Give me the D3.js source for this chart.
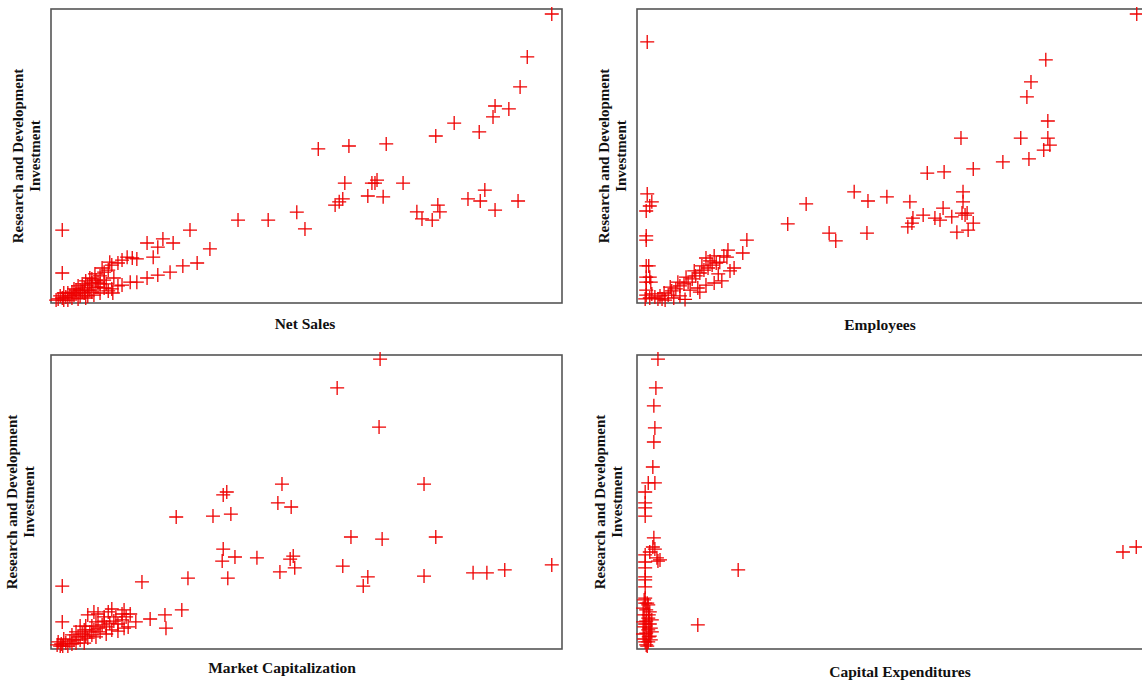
<!DOCTYPE html>
<html>
<head>
<meta charset="utf-8">
<script src="https://cdn.jsdelivr.net/npm/d3@7"></script>
<style>
  body { margin: 0; background: #fff; }
  text { font-family: "Liberation Serif", "Times New Roman", serif; font-weight: bold; fill: #111; }
</style>
</head>
<body>
<div id="container"></div>
<script>
// values are on a 0-100 index scale for each variable
const yLabel = ["Research and Development", "Investment"]

const salesX = [2.2, 2.2, 27.2, 36.6, 42.5, 48.1, 49.7, 21.9, 23.9, 20.9, 18.8, 20.0, 31.1, 28.6, 25.8, 23.3, 20.9, 18.8, 16.8, 15.5, 13.9, 12.1,
    98.0, 93.2, 91.8, 86.9, 89.6, 86.5, 83.8, 78.9, 75.3, 65.6, 58.3, 52.3, 57.5, 63.8, 62.8, 63.4, 68.9, 62.0, 65.0, 57.1, 55.6, 56.4,
    71.6, 72.6, 74.6, 75.7, 76.1, 81.6, 84.0, 84.9, 86.9, 91.4, 14.9, 15.9, 16.8, 13.9, 13.1, 11.9,
    1.4, 2.2, 2.9, 3.7, 2.5, 4.1, 4.9, 5.7, 6.5, 5.3, 7.2, 8.0, 6.8, 8.8, 7.6, 9.6, 8.6, 10.4, 11.2, 10.0, 11.5,
    4.5, 6.1, 7.6, 9.2, 10.8, 8.4, 9.6, 11.2, 11.9, 13.1, 6.8, 5.3, 3.3, 10.4, 12.3,
    1.0, 1.8, 3.3, 4.1, 4.9, 5.7, 6.5, 7.2, 8.0, 8.8, 9.6, 10.4, 8.0, 9.2, 6.1, 7.2, 4.5, 2.5]
const salesY = [24.8, 10.2, 24.8, 28.2, 28.2, 30.9, 25.2, 21.8, 20.4, 19.0, 20.4, 15.6, 18.4, 13.6, 12.6, 10.5, 9.5, 8.5, 7.1, 7.1, 6.1, 3.4,
    98.3, 83.7, 73.5, 67.0, 66.0, 63.3, 58.2, 61.2, 56.8, 54.1, 53.4, 52.4, 40.8, 41.8, 40.8, 40.8, 40.8, 36.4, 36.1, 35.4, 33.3, 34.4,
    31.0, 28.6, 28.2, 33.3, 31.0, 35.4, 34.7, 38.4, 31.6, 34.7, 15.6, 15.3, 15.0, 14.6, 13.6, 12.9,
    1.4, 1.7, 2.0, 2.4, 3.4, 3.7, 3.1, 4.4, 5.1, 5.8, 6.1, 6.8, 7.5, 7.8, 8.5, 9.2, 9.9, 10.5, 11.2, 11.9, 13.9,
    4.8, 3.7, 4.4, 5.4, 6.5, 2.7, 3.4, 4.1, 4.8, 5.8, 1.7, 1.4, 1.0, 7.8, 8.5,
    1.0, 2.4, 3.4, 1.7, 4.4, 2.4, 3.4, 4.4, 3.7, 5.4, 6.5, 5.1, 8.2, 7.1, 6.5, 2.4, 2.7, 1.0]

const employeesX = [2.0, 2.0, 2.9, 2.5, 1.8, 1.8, 1.8, 1.8, 1.8, 1.8, 1.8, 1.8,
    29.5, 33.1, 37.6, 38.9, 42.5, 45.2, 45.0, 48.9, 21.5, 20.7, 17.8, 17.6,
    97.8, 80.0, 77.1, 76.3, 80.4, 75.1, 80.4, 80.8, 79.6, 76.7, 71.6, 63.4, 65.8, 60.1, 56.8, 53.4, 63.8, 63.8, 59.9, 56.0, 54.0, 58.3,
    59.3, 61.6, 63.6, 64.6, 64.2, 65.8, 53.0, 53.8, 62.6, 64.8,
    1.6, 2.5, 3.5, 4.5, 2.9, 5.3, 6.1, 6.8, 7.6, 6.5, 8.4, 9.2, 8.0, 10.0, 10.8, 9.6, 11.5, 12.3, 11.2, 13.1, 13.9, 12.7, 14.7, 15.5, 14.3,
    16.2, 13.5, 15.1, 17.0, 10.4, 11.9, 13.5, 15.1, 16.6, 15.9, 18.2, 4.1, 4.9, 8.4, 12.3, 19.0,
    2.3, 2.5, 2.7, 5.5, 7.2, 9.4]
const employeesY = [88.8, 37.1, 34.4, 33.0, 31.3, 22.8, 21.4, 12.6, 8.8, 7.1, 4.4, 2.7,
    26.9, 33.7, 23.8, 21.1, 37.8, 34.7, 23.8, 36.1, 21.4, 17.0, 18.0, 15.6,
    98.3, 82.7, 75.2, 70.1, 61.9, 56.1, 56.1, 53.7, 52.0, 49.0, 48.0, 56.1, 45.6, 44.6, 44.2, 34.4, 37.8, 34.4, 32.3, 29.9, 28.9, 28.9,
    28.2, 29.3, 30.6, 30.6, 29.9, 27.2, 25.9, 27.2, 24.1, 24.8,
    1.4, 1.7, 2.0, 2.4, 3.1, 3.4, 2.7, 4.1, 4.8, 5.4, 5.8, 6.5, 7.1, 7.1, 8.2, 8.8, 9.2, 10.2, 10.9, 11.2, 11.9, 12.6, 12.9, 13.6, 14.3,
    13.9, 15.3, 16.0, 16.0, 4.4, 5.1, 6.1, 6.8, 7.5, 9.9, 10.9, 1.4, 1.4, 2.4, 3.7, 11.9,
    12.6, 8.8, 7.1, 1.0, 1.7, 1.2]

const marketCapX = [2.2, 2.2, 17.8, 26.8, 34.6, 24.5, 31.7, 35.2, 34.4, 33.7, 45.2, 44.4, 47.0, 33.7, 33.5, 36.0, 40.3, 47.4, 46.8, 44.8, 47.7,
    25.6, 22.3, 19.4, 22.5, 64.4, 56.0, 64.2, 73.0, 58.7, 64.8, 75.3, 57.1, 62.0, 61.1, 73.0, 82.6, 85.3, 88.8, 98.0,
    1.2, 2.0, 2.9, 3.7, 2.5, 4.5, 5.3, 4.1, 6.1, 6.8, 7.6, 6.5, 8.4, 9.2, 8.0, 10.0, 10.8, 11.5, 10.4, 12.3, 13.1, 13.9, 12.7, 14.7,
    15.5, 11.2, 9.2, 7.2, 11.9, 14.3, 5.7, 4.9, 8.8, 10.8, 13.1, 15.1, 3.3, 6.5, 1.8, 16.6,
    1.4, 2.3, 4.1, 4.9, 5.7, 7.2, 8.0, 9.6, 6.8, 8.8, 10.4, 13.9, 8.4, 11.9, 14.3]
const marketCapY = [21.4, 9.2, 22.8, 24.1, 24.1, 44.9, 45.2, 45.9, 53.4, 52.4, 56.1, 49.7, 48.3, 34.0, 29.9, 31.3, 31.0, 31.6, 30.6, 26.2, 27.6,
    13.3, 11.6, 10.2, 7.1, 98.6, 88.8, 75.5, 56.1, 38.1, 37.4, 38.1, 28.2, 24.5, 21.4, 24.8, 25.9, 25.9, 26.9, 28.6,
    1.4, 1.7, 2.0, 2.7, 3.4, 3.1, 4.1, 4.8, 5.1, 4.4, 5.8, 6.5, 6.5, 7.1, 7.8, 8.2, 7.5, 8.8, 9.5, 9.5, 8.5, 9.9, 10.9, 10.9,
    11.9, 12.6, 11.9, 11.6, 13.6, 13.3, 7.8, 5.8, 4.1, 5.1, 6.1, 7.5, 1.0, 2.0, 1.0, 9.2,
    2.4, 1.0, 1.7, 2.0, 3.1, 3.7, 4.8, 5.8, 7.8, 9.2, 10.9, 11.9, 12.6, 6.5, 7.1]

const capexX = [4.1, 3.7, 3.3, 3.5, 3.3, 3.1, 3.5, 2.2, 1.6, 1.6, 1.6, 1.6, 3.3, 3.1, 3.5, 3.9, 4.1, 1.6, 1.6, 1.6, 1.6, 1.6, 1.6, 1.6, 1.6,
    19.8, 11.9, 95.1, 97.7,
    1.4, 2.2, 1.8, 2.5, 1.4, 2.2, 1.8, 2.5, 1.4, 2.2, 1.8, 2.5, 1.4, 2.2, 1.8, 2.9, 2.9, 1.2, 1.2, 2.7, 2.5, 4.5,
    2.0, 2.3, 1.6, 2.3, 1.6, 2.7, 1.2, 2.0]
const capexY = [98.6, 88.8, 82.7, 75.2, 70.4, 61.9, 56.5, 56.5, 53.4, 49.7, 48.0, 45.2, 37.8, 34.7, 34.0, 31.0, 29.9, 32.0, 29.6, 27.6, 24.5, 23.5, 21.1, 17.3, 15.6,
    26.9, 8.2, 33.0, 34.7,
    16.7, 15.0, 13.3, 12.6, 11.6, 10.5, 9.5, 8.5, 7.5, 6.5, 5.4, 4.4, 3.4, 2.4, 1.4, 9.9, 5.8, 13.9, 9.2, 3.1, 33.0, 30.3,
    15.6, 11.6, 8.5, 4.1, 2.4, 7.1, 5.1, 1.0]

const panels = [
    { xs: salesX, ys: salesY, label: "Net Sales", left: 51, top: 9, lx: 305, ly: 329, yx: 18 },
    { xs: employeesX, ys: employeesY, label: "Employees", left: 637, top: 9, lx: 880, ly: 330, yx: 604 },
    { xs: marketCapX, ys: marketCapY, label: "Market Capitalization", left: 51, top: 355, lx: 282, ly: 673, yx: 12 },
    { xs: capexX, ys: capexY, label: "Capital Expenditures", left: 637, top: 355, lx: 900, ly: 677, yx: 600 }
]

const w = 1142
const h = 683
const pw = 511
const ph = 294

const svg = d3.select("#container")
    .append("svg")
    .attr("width", w)
    .attr("height", h)

panels.forEach(p => {
    const xScale = d3.scaleLinear().domain([0, 100]).range([p.left, p.left + pw])
    const yScale = d3.scaleLinear().domain([0, 100]).range([p.top + ph, p.top])

    svg.append("rect")
        .attr("x", p.left)
        .attr("y", p.top)
        .attr("width", pw)
        .attr("height", ph)
        .attr("fill", "none")
        .attr("stroke", "#555")
        .attr("stroke-width", 1.6)

    const g = svg.append("g")
    g.selectAll("path")
        .data(d3.range(p.xs.length))
        .enter()
        .append("path")
        .attr("transform", i => `translate(${xScale(p.xs[i])},${yScale(p.ys[i])})`)
        .attr("d", "M-7,0H7M0,-7V7")
        .attr("stroke", "#ee0000")
        .attr("stroke-width", 1.3)
        .attr("fill", "none")

    svg.append("text")
        .attr("x", p.lx)
        .attr("y", p.ly)
        .attr("text-anchor", "middle")
        .attr("font-size", 15.5)
        .text(p.label)

    // rotated two-line y label
    const cy = p.top + ph / 2
    yLabel.forEach((t, k) => {
        svg.append("text")
            .attr("transform", `translate(${p.yx + k * 17},${cy}) rotate(-90)`)
            .attr("text-anchor", "middle")
            .attr("dominant-baseline", "central")
            .attr("font-size", 15)
            .text(t)
    })
})
</script>
</body>
</html>
